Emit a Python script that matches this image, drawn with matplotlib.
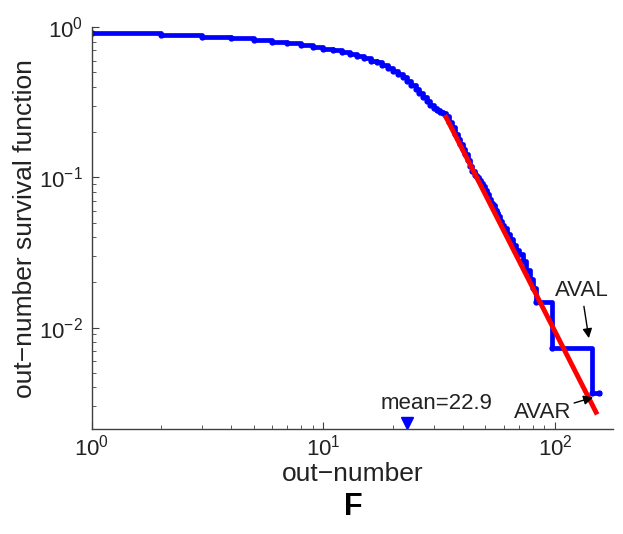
import matplotlib
matplotlib.use("Agg")
import matplotlib.pyplot as plt
from matplotlib.ticker import LogLocator, LogFormatterMathtext, NullFormatter

plt.rcParams['font.family'] = ['Liberation Sans', 'DejaVu Sans']
plt.rcParams['mathtext.fontset'] = 'custom'
plt.rcParams['mathtext.rm'] = 'Liberation Sans'
plt.rcParams['mathtext.it'] = 'Liberation Sans'

out_number = [1, 2, 3, 4, 5, 6, 7, 8, 9, 10, 11, 12, 13, 14, 15, 16, 17, 18,
              19, 20, 21, 22, 23, 24, 25, 26, 27, 28, 29, 30, 31, 32, 33, 34,
              35, 36, 37, 38, 39, 40, 41, 42, 43, 44, 45, 46, 47, 48, 49, 50,
              51, 52, 53, 54, 55, 56, 57, 58, 59, 60, 62, 64, 66, 68, 70, 73,
              75, 78, 80, 83, 97, 144, 155]
survival = [0.912, 0.888, 0.866, 0.845, 0.823, 0.802, 0.782, 0.762, 0.740,
            0.718, 0.700, 0.683, 0.663, 0.643, 0.621, 0.600, 0.585, 0.562,
            0.535, 0.510, 0.490, 0.465, 0.440, 0.412, 0.390, 0.365, 0.345,
            0.325, 0.305, 0.290, 0.280, 0.272, 0.268, 0.256, 0.235, 0.215,
            0.195, 0.180, 0.168, 0.155, 0.143, 0.131, 0.120, 0.110, 0.104,
            0.100, 0.096, 0.092, 0.088, 0.083, 0.077, 0.072, 0.068, 0.065,
            0.061, 0.058, 0.055, 0.051, 0.048, 0.046, 0.042, 0.039, 0.0355,
            0.033, 0.031, 0.0276, 0.0243, 0.0210, 0.0184, 0.0147, 0.00735,
            0.00368, 0.00368]

# power-law fit of the tail
fit_x = [33.5, 152]
fit_y = [0.26, 0.00264]

mean_value = 22.9
aval_point = (140, 0.0085)
avar_point = (146, 0.00343)

fig = plt.figure(figsize=(6.23, 5.34), dpi=100)
ax = fig.add_axes([0.147, 0.196, 0.837, 0.753])

ax.plot(out_number, survival, color='blue', lw=3.4, marker='.', ms=7,
        drawstyle='steps-post', solid_joinstyle='round')
ax.plot(fit_x, fit_y, color='red', lw=3.5, solid_capstyle='butt')

ax.set_xscale('log')
ax.set_yscale('log')
ax.set_xlim(1, 178)
ax.set_ylim(0.0021, 1)

ax.plot([mean_value], [0.00232], marker='v', color='blue', ms=8, ls='none',
        clip_on=False)
ax.text(30.8, 0.0031, 'mean=%.1f' % mean_value, ha='center', va='center',
        fontsize=16, color='#222222')

ax.annotate('AVAL', xy=aval_point, xytext=(130, 0.0177), ha='center',
            va='center', fontsize=16, color='#222222',
            arrowprops=dict(arrowstyle='-|>', color='black', lw=1,
                            mutation_scale=14, shrinkA=2, shrinkB=0))
ax.annotate('AVAR', xy=avar_point, xytext=(88.4, 0.00272), ha='center',
            va='center', fontsize=16, color='#222222',
            arrowprops=dict(arrowstyle='-|>', color='black', lw=1,
                            mutation_scale=14, shrinkA=0, shrinkB=0))

for side in ['top', 'right']:
    ax.spines[side].set_visible(False)
for side in ['left', 'bottom']:
    ax.spines[side].set_color('#404040')
    ax.spines[side].set_linewidth(1)

ax.xaxis.set_major_locator(LogLocator(base=10))
ax.yaxis.set_major_locator(LogLocator(base=10))
ax.xaxis.set_major_formatter(LogFormatterMathtext())
ax.yaxis.set_major_formatter(LogFormatterMathtext())
ax.xaxis.set_minor_formatter(NullFormatter())
ax.yaxis.set_minor_formatter(NullFormatter())
ax.tick_params(which='both', direction='in', colors='#404040',
               labelcolor='#222222', labelsize=16)
ax.tick_params(which='major', length=5, pad=6)
ax.tick_params(axis='x', which='major', pad=4)
ax.tick_params(which='minor', length=3)

ax.set_xlabel('out\u2212number', fontsize=19, color='#222222')
ax.xaxis.set_label_coords(0.5, -0.11)
ax.xaxis.label.set_va('center')
ax.set_ylabel('out\u2212number survival function', fontsize=19,
              color='#222222')
ax.yaxis.set_label_coords(-0.128, 0.5)
ax.yaxis.label.set_va('center')
fig.text(0.567, 0.05, 'F', fontsize=22, fontweight='bold', ha='center',
         va='center')

fig.savefig('out.png', dpi=100)
